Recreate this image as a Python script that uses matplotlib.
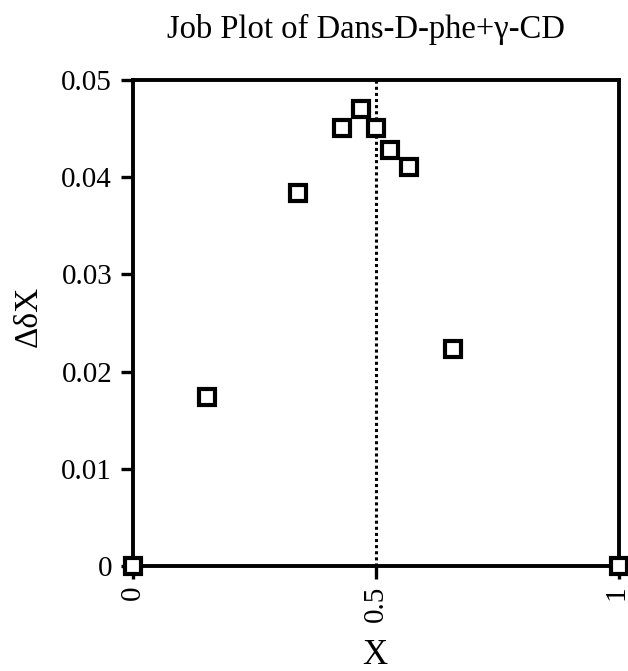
import matplotlib
matplotlib.use("Agg")
import matplotlib.pyplot as plt
import matplotlib.transforms as mtransforms

# mole fraction X and the chemical shift change (Job plot)
mole_fraction = [0.0, 0.152, 0.340, 0.430, 0.469, 0.500, 0.529, 0.568, 0.658, 1.0]
delta_shift = [0.0, 0.0174, 0.0384, 0.0451, 0.0470, 0.0451, 0.0428, 0.0410, 0.0223, 0.0]

x_ticks = [0, 0.5, 1]
x_tick_labels = ["0", "0.5", "1"]
y_ticks = [0, 0.01, 0.02, 0.03, 0.04, 0.05]
y_tick_labels = ["0", "0.01", "0.02", "0.03", "0.04", "0.05"]

plt.rcParams['font.family'] = ['Liberation Serif', 'DejaVu Serif']

fig = plt.figure(figsize=(6.28, 6.71), dpi=100)
ax = fig.add_axes([133 / 628, 1 - 566 / 671, (619 - 133) / 628, (566 - 80) / 671])

ax.axvline(0.5, color='black', linestyle=(0, (1, 1)), linewidth=2.2, zorder=1)
ax.plot(mole_fraction, delta_shift, linestyle='none', marker='s', markersize=11,
        markerfacecolor='white', markeredgecolor='black', markeredgewidth=3,
        clip_on=False, zorder=3)

ax.set_xlim(0, 1)
ax.set_ylim(0, 0.05)
ax.set_xticks(x_ticks)
ax.set_xticklabels(x_tick_labels, rotation=90)
ax.set_yticks(y_ticks)
ax.set_yticklabels(y_tick_labels)

for side in ['left', 'right', 'top', 'bottom']:
    ax.spines[side].set_linewidth(2.8)
ax.tick_params(axis='both', direction='out', length=9, width=2.4, labelsize=21,
               top=False, right=False)
ax.tick_params(axis='y', pad=6)
ax.tick_params(axis='x', pad=5)

# keep the "1" label inside the figure edge
last = ax.get_xticklabels()[-1]
last.set_transform(last.get_transform() + mtransforms.ScaledTranslation(-3 / 100, 0, fig.dpi_scale_trans))

fig.text(366 / 628, 1 - 38 / 671, "Job Plot of Dans-D-phe+\u03b3-CD",
         ha='center', va='baseline', fontsize=23.5)
fig.text(29 / 628, 1 - 316 / 671, "\u0394\u03b4X", rotation=90,
         ha='center', va='center', fontsize=24)
fig.text(375 / 628, 1 - 656 / 671, "X", ha='center', va='center', fontsize=25)

fig.savefig("out.png", dpi=100)
